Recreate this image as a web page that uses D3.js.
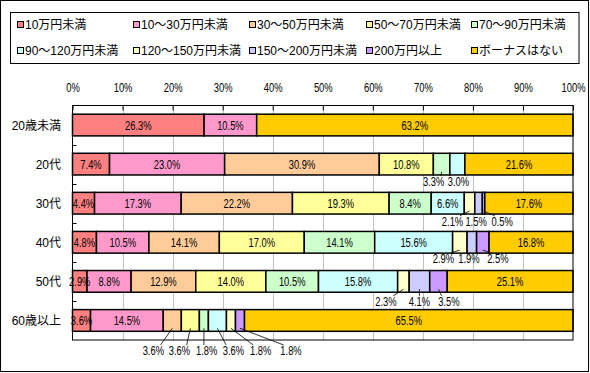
<!DOCTYPE html>
<html>
<head>
<meta charset="utf-8">
<script src="https://cdn.jsdelivr.net/npm/d3@7/dist/d3.min.js"></script>
<style>
body { margin: 0; background: #fff; }
text { font-family: "Liberation Sans", "Noto Sans CJK JP", sans-serif; font-size: 12px; fill: #000; }
</style>
</head>
<body>
<script>
// data (percent)
var categories = ["20歳未満", "20代", "30代", "40代", "50代", "60歳以上"];
var seriesNames = ["10万円未満", "10〜30万円未満", "30〜50万円未満", "50〜70万円未満", "70〜90万円未満",
    "90〜120万円未満", "120〜150万円未満", "150〜200万円未満", "200万円以上", "ボーナスはない"];
var v10 = [26.3, 7.4, 4.4, 4.8, 2.9, 3.6];
var v10to30 = [10.5, 23.0, 17.3, 10.5, 8.8, 14.5];
var v30to50 = [0, 30.9, 22.2, 14.1, 12.9, 3.6];
var v50to70 = [0, 10.8, 19.3, 17.0, 14.0, 3.6];
var v70to90 = [0, 3.3, 8.4, 14.1, 10.5, 1.8];
var v90to120 = [0, 3.0, 6.6, 15.6, 15.8, 3.6];
var v120to150 = [0, 0, 2.1, 2.9, 2.3, 1.8];
var v150to200 = [0, 0, 1.5, 1.9, 4.1, 0];
var v200plus = [0, 0, 0.5, 2.5, 3.5, 1.8];
var noBonus = [63.2, 21.6, 17.6, 16.8, 25.1, 65.5];
var tickValues = [0, 10, 20, 30, 40, 50, 60, 70, 80, 90, 100];
var tickLabels = ["0%", "10%", "20%", "30%", "40%", "50%", "60%", "70%", "80%", "90%", "100%"];

var seriesValues = [v10, v10to30, v30to50, v50to70, v70to90, v90to120, v120to150, v150to200, v200plus, noBonus];
var colors = ["#FF8080", "#FF99CC", "#FFCC99", "#FFFF99", "#CCFFCC", "#CCFFFF", "#FFFFCC", "#CCCCFF", "#CC99FF", "#FFCC00"];

// labels that sit under the bar: [shift x from segment centre, centre y below bar bottom]
var outside = {
    "20代|4": [-8, 7], "20代|5": [1, 7],
    "30代|6": [-17, 7.7], "30代|7": [-2.5, 7.7], "30代|8": [18.5, 7.7],
    "40代|6": [-16.5, 5.7], "40代|7": [-3, 5.7], "40代|8": [15, 5.7],
    "50代|6": [-17.5, 9.7], "50代|7": [0, 9.7], "50代|8": [10.5, 9.7],
    "60歳以上|2": [-19, 19.7], "60歳以上|3": [-11, 19.7], "60歳以上|4": [2.7, 19.7],
    "60歳以上|5": [16, 19.7], "60歳以上|6": [29.7, 19.7], "60歳以上|8": [51, 19.7]
};

var W = 590, H = 373;
var plotLeft = 72.5, plotRight = 573, plotTop = 105.5, plotBottom = 340;
var narrow = 0.78;

// squeeze number labels sideways, the original font is much narrower
function squeeze(sel) {
    sel.each(function () {
        var w = this.getComputedTextLength();
        d3.select(this)
            .attr("textLength", w * narrow)
            .attr("lengthAdjust", "spacingAndGlyphs");
    });
}

var svg = d3.select("body").append("svg")
    .attr("width", W)
    .attr("height", H);

svg.append("rect")
    .attr("x", 0.5).attr("y", 0.5)
    .attr("width", 588).attr("height", 371)
    .attr("fill", "#fff").attr("stroke", "#000");

// legend
svg.append("rect")
    .attr("x", 10.5).attr("y", 12.5)
    .attr("width", 568.5).attr("height", 51)
    .attr("fill", "#fff").attr("stroke", "#000");

var legendCols = [17, 133, 249, 366, 471], legendRows = [25, 51];
var legend = svg.selectAll(".legend")
    .data(seriesNames)
    .enter()
    .append("g")
    .attr("transform", function (d, i) {
        return "translate(" + legendCols[i % 5] + "," + legendRows[Math.floor(i / 5)] + ")";
    });
legend.append("rect")
    .attr("x", 0.5).attr("y", -3.5)
    .attr("width", 6).attr("height", 6)
    .attr("fill", function (d, i) { return colors[i]; })
    .attr("stroke", "#000");
legend.append("text")
    .attr("x", 8).attr("y", 0)
    .attr("dominant-baseline", "central")
    .text(function (d) { return d; });

var x = d3.scaleLinear().domain([0, 100]).range([plotLeft, plotRight]);
var y = d3.scaleBand().domain(categories)
    .range([plotTop, plotBottom])
    .paddingInner(0.445).paddingOuter(0.2225);

// plot area + gridlines
svg.append("rect")
    .attr("x", plotLeft).attr("y", plotTop)
    .attr("width", plotRight - plotLeft).attr("height", plotBottom - plotTop)
    .attr("fill", "#fff");

svg.append("g")
    .selectAll("line")
    .data(tickValues.slice(1, -1))
    .enter()
    .append("line")
    .attr("x1", function (d) { return Math.round(x(d)) + 0.5; })
    .attr("x2", function (d) { return Math.round(x(d)) + 0.5; })
    .attr("y1", plotTop).attr("y2", plotBottom)
    .attr("stroke", "#C0C0C0");

// build segments
var rows = categories.map(function (cat, ci) {
    var total = 0;
    seriesValues.forEach(function (s) { total += s[ci]; });
    var cum = 0, segs = [];
    seriesValues.forEach(function (s, si) {
        var v = s[ci];
        var x0 = cum / total * 100;
        cum += v;
        segs.push({ cat: cat, si: si, value: v, x0: x0, x1: cum / total * 100 });
    });
    return segs;
});
var segments = [].concat.apply([], rows).filter(function (d) { return d.value > 0; });

svg.append("g")
    .selectAll("rect")
    .data(segments)
    .enter()
    .append("rect")
    .attr("x", function (d) { return x(d.x0); })
    .attr("y", function (d) { return y(d.cat); })
    .attr("width", function (d) { return x(d.x1) - x(d.x0); })
    .attr("height", y.bandwidth())
    .attr("fill", function (d) { return colors[d.si]; })
    .attr("stroke", "#000")
    .attr("stroke-width", 1.5);

svg.append("rect")
    .attr("x", plotLeft).attr("y", plotTop)
    .attr("width", plotRight - plotLeft).attr("height", plotBottom - plotTop)
    .attr("fill", "none").attr("stroke", "#000");

// top axis
var axis = svg.append("g")
    .attr("transform", "translate(0," + plotTop + ")")
    .call(d3.axisTop(x).tickValues(tickValues).tickSize(-5).tickPadding(14)
        .tickFormat(function (d, i) { return tickLabels[i]; }));
axis.select(".domain").remove();
axis.selectAll("line").attr("stroke", "#000");
axis.selectAll("text")
    .attr("font-family", null).attr("font-size", null)
    .style("fill", "#000")
    .call(squeeze);
axis.attr("font-family", null).attr("font-size", null);

// category ticks on the left
svg.append("g")
    .selectAll("line")
    .data(categories.slice(1))
    .enter()
    .append("line")
    .attr("x1", plotLeft).attr("x2", plotLeft + 4)
    .attr("y1", function (d) { return Math.round(y(d) - y.step() * y.paddingInner() / 2) + 0.5; })
    .attr("y2", function (d) { return Math.round(y(d) - y.step() * y.paddingInner() / 2) + 0.5; })
    .attr("stroke", "#000");

svg.append("g")
    .selectAll("text")
    .data(categories)
    .enter()
    .append("text")
    .attr("x", 61)
    .attr("y", function (d) { return y(d) + y.bandwidth() / 2 + 1; })
    .attr("text-anchor", "end")
    .attr("dominant-baseline", "central")
    .text(function (d) { return d; });

// value labels
var labels = svg.append("g");
segments.forEach(function (d) {
    var cx = (x(d.x0) + x(d.x1)) / 2;
    var barBottom = y(d.cat) + y.bandwidth();
    var shift = outside[d.cat + "|" + d.si];
    var txt = d.value.toFixed(1) + "%";
    if (!shift) {
        labels.append("text")
            .attr("x", cx)
            .attr("y", y(d.cat) + y.bandwidth() / 2 + 1)
            .attr("text-anchor", "middle")
            .attr("dominant-baseline", "central")
            .text(txt)
            .call(squeeze);
        return;
    }
    var lx = cx + shift[0], ly = barBottom + shift[1];
    var t = labels.append("text")
        .attr("x", lx)
        .attr("y", ly)
        .attr("text-anchor", "middle")
        .attr("dominant-baseline", "central")
        .text(txt)
        .call(squeeze);
    var w = t.node().getComputedTextLength() * narrow;
    if (Math.abs(shift[0]) > 6 || shift[1] > 9) {
        var ex = Math.max(lx - w / 2 + 1, Math.min(lx + w / 2 - 1, cx));
        labels.append("line")
            .attr("x1", cx).attr("y1", barBottom - 3)
            .attr("x2", ex).attr("y2", ly - 6)
            .attr("stroke", "#000")
            .attr("stroke-width", 0.8);
    }
});
</script>
</body>
</html>
